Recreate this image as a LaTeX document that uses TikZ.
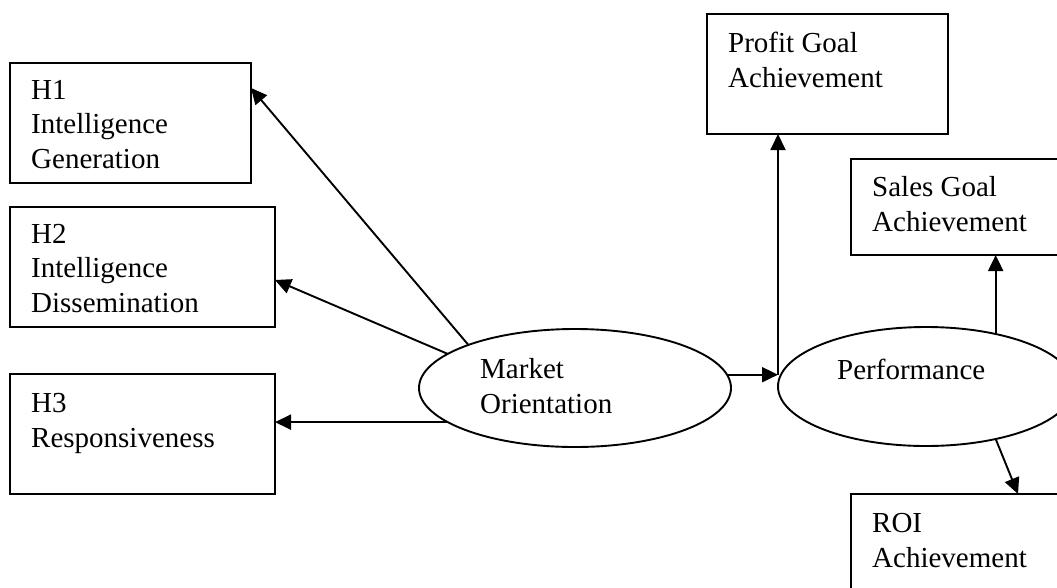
\documentclass[tikz,border=0pt]{standalone}
\usepackage{fontspec}
\setmainfont{Liberation Serif}
\usetikzlibrary{arrows.meta,calc,shapes.geometric}
\begin{document}
\begin{tikzpicture}[x=1pt,y=-1pt,
  box/.style={draw,line width=1.9pt,rectangle,inner sep=0pt,outer sep=0pt},
  oval/.style={draw,line width=1.9pt,ellipse,inner sep=0pt,outer sep=0pt},
  lbl/.style={anchor=base west,inner sep=0pt,align=left,font=\fontsize{29}{34.5}\selectfont},
  arr/.style={line width=1.9pt,-{Triangle[length=16pt,width=15pt]}}]
\clip (0,0) rectangle (1057,587);
\fill[white] (0,0) rectangle (1057,587);
% boxes
\node[box,minimum width=241pt,minimum height=120pt] (h1) at (130.5,123) {};
\node[box,minimum width=265pt,minimum height=120pt] (h2) at (142.5,267) {};
\node[box,minimum width=265pt,minimum height=120pt] (h3) at (142.5,434) {};
\node[box,minimum width=241pt,minimum height=120pt] (profit) at (827.5,74) {};
\node[box,minimum width=249pt,minimum height=96pt] (sales) at (975.5,207) {};
\node[box,minimum width=249pt,minimum height=120pt] (roi) at (975.5,554) {};
\node[oval,minimum width=312pt,minimum height=118pt] (mo) at (575,388) {};
\node[oval,minimum width=296pt,minimum height=119pt] (perf) at (926,386.5) {};
% texts (anchored at the baseline of their last line)
\node[lbl] (t1) at (31,168) {H1\\Intelligence\\Generation};
\node[lbl] (t2) at (31,312) {H2\\Intelligence\\Dissemination};
\node[lbl] (t3) at (31,447) {H3\\Responsiveness};
\node[lbl] (tp) at (728,87) {Profit Goal\\Achievement};
\node[lbl] (ts) at (872,231) {Sales Goal\\Achievement};
\node[lbl] (tr) at (872,567) {ROI\\Achievement};
\node[lbl] (tm) at (480,413) {Market\\Orientation};
\node[lbl] (tf) at (837,379) {Performance};
% connectors
\draw[arr] (mo.158) -- ($(h1.east)+(0,-35)$);
\draw[arr] (mo.165) -- ($(h2.east)+(0,13)$);
\draw[arr] (mo.195) -- (mo.195 -| h3.east);
\coordinate (j) at (mo.5 -| perf.west);
\draw[arr] (mo.5) -- (j);
\draw[arr] (j) -- (j |- profit.south);
\draw[arr] (perf.37) -- (perf.37 |- sales.south);
\draw[arr] (perf.-37) -- ($(roi.north west)+(167,0)$);
\end{tikzpicture}
\end{document}
